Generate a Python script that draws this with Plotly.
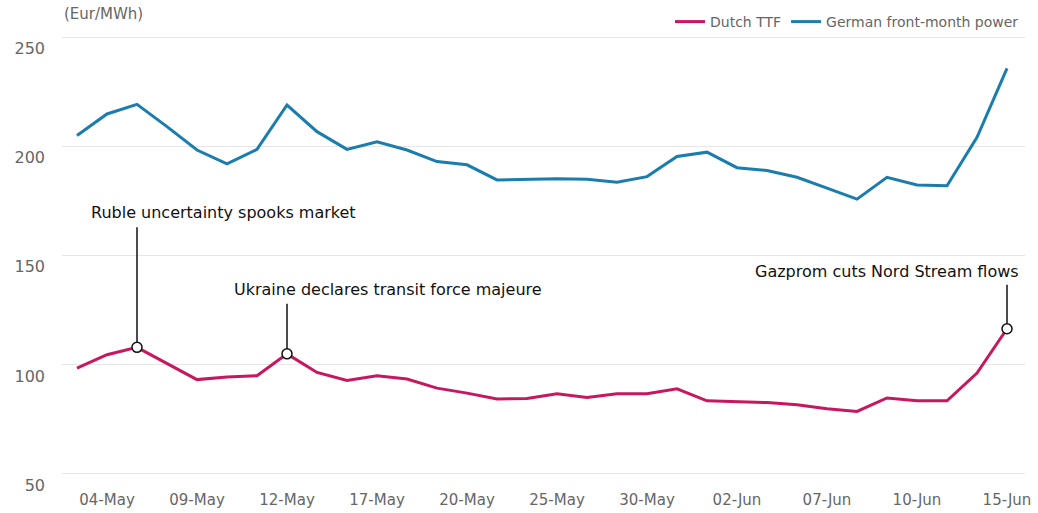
import plotly.graph_objects as go

# trading days, 03-May to 15-Jun
dates = [
    "03-May", "04-May", "05-May", "06-May", "09-May", "10-May", "11-May", "12-May",
    "13-May", "16-May", "17-May", "18-May", "19-May", "20-May", "23-May", "24-May",
    "25-May", "26-May", "27-May", "30-May", "31-May", "01-Jun", "02-Jun", "03-Jun",
    "06-Jun", "07-Jun", "08-Jun", "09-Jun", "10-Jun", "13-Jun", "14-Jun", "15-Jun",
]
tick_labels = ["04-May", "09-May", "12-May", "17-May", "20-May", "25-May",
               "30-May", "02-Jun", "07-Jun", "10-Jun", "15-Jun"]

dutch_ttf = [
    98.5, 104.6, 108.0, 100.5, 93.2, 94.4, 95.0, 105.0,
    96.5, 92.8, 95.0, 93.5, 89.3, 87.0, 84.3, 84.6,
    86.7, 85.0, 86.7, 86.7, 89.0, 83.5, 83.2, 82.7,
    81.7, 79.9, 78.6, 84.8, 83.5, 83.5, 96.2, 116.5,
]
german_power = [
    205.0, 214.9, 219.3, 209.1, 198.4, 192.0, 198.7, 219.0,
    206.8, 198.7, 202.2, 198.4, 193.1, 191.6, 184.7, 185.0,
    185.2, 185.0, 183.6, 186.2, 195.4, 197.4, 190.3, 189.0,
    185.9, 180.9, 175.9, 185.9, 182.4, 182.0, 204.2, 235.8,
]

events = ["Ruble uncertainty spooks market",
          "Ukraine declares transit force majeure",
          "Gazprom cuts Nord Stream flows"]
event_dates = ["05-May", "12-May", "15-Jun"]

PINK = "#C8175F"
BLUE = "#1A7DAE"
FONT = "DejaVu Sans"

fig = go.Figure()

fig.add_trace(go.Scatter(x=dates, y=dutch_ttf, mode="lines", name="Dutch TTF",
                         line=dict(color=PINK, width=3)))
fig.add_trace(go.Scatter(x=dates, y=german_power, mode="lines",
                         name="German front-month power",
                         line=dict(color=BLUE, width=3)))

# event markers on the TTF line
ev_idx = [dates.index(d) for d in event_dates]
ev_vals = [dutch_ttf[i] for i in ev_idx]

# callout layout: (line length px, text shift px, xanchor, xshift)
callouts = [(120, 135, "left", -48), (50, 64, "left", -55), (44, 57, "right", 14)]
for d, v, txt, (ln, ts, anc, xs) in zip(event_dates, ev_vals, events, callouts):
    # stick starts at the top of the marker circle
    fig.add_shape(type="line", xref="x", yref="y", x0=d, x1=d,
                  ysizemode="pixel", yanchor=v, y0=5, y1=ln,
                  line=dict(color="#111111", width=1.5), layer="above")
    fig.add_annotation(x=d, y=v, text=txt, showarrow=False,
                       xanchor=anc, xshift=xs, yshift=ts,
                       font=dict(family=FONT, size=16, color="#111111"))

fig.add_trace(go.Scatter(x=event_dates, y=ev_vals, mode="markers", showlegend=False,
                         marker=dict(size=10, color="white",
                                     line=dict(color="#111111", width=1.5))))

fig.add_annotation(xref="paper", yref="paper", x=0, y=1, xanchor="left",
                   yanchor="bottom", yshift=8, text="(Eur/MWh)", showarrow=False,
                   font=dict(family=FONT, size=15, color="#666666"))

fig.update_xaxes(type="category", range=[-0.5, 31.6], tickmode="array",
                 tickvals=tick_labels, ticktext=tick_labels, showgrid=False,
                 showline=False, zeroline=False, ticks="", automargin=False,
                 ticklabelstandoff=2,
                 tickfont=dict(family=FONT, size=15, color="#666666"))
fig.update_yaxes(range=[44, 252], tickvals=[50, 100, 150, 200, 250],
                 showgrid=True, gridcolor="#e6e6e6", gridwidth=1, zeroline=False,
                 showline=False, ticks="", ticklabelposition="outside bottom",
                 ticklabelstandoff=16, automargin=False,
                 tickfont=dict(family=FONT, size=16, color="#666666"))

fig.update_layout(
    width=1038, height=513,
    margin=dict(l=62, r=13, t=33, b=26, autoexpand=False),
    plot_bgcolor="white", paper_bgcolor="white",
    font=dict(family=FONT),
    legend=dict(orientation="h", x=1 - 14 / 1038, xanchor="right", xref="container",
                y=1 - 6 / 513, yanchor="top", yref="container",
                font=dict(family=FONT, size=14, color="#666666"),
                itemwidth=30, bgcolor="rgba(0,0,0,0)"),
    showlegend=True,
)

fig.write_html("out.html", config={"displayModeBar": False},
               post_script="document.body.style.margin = '0';")
